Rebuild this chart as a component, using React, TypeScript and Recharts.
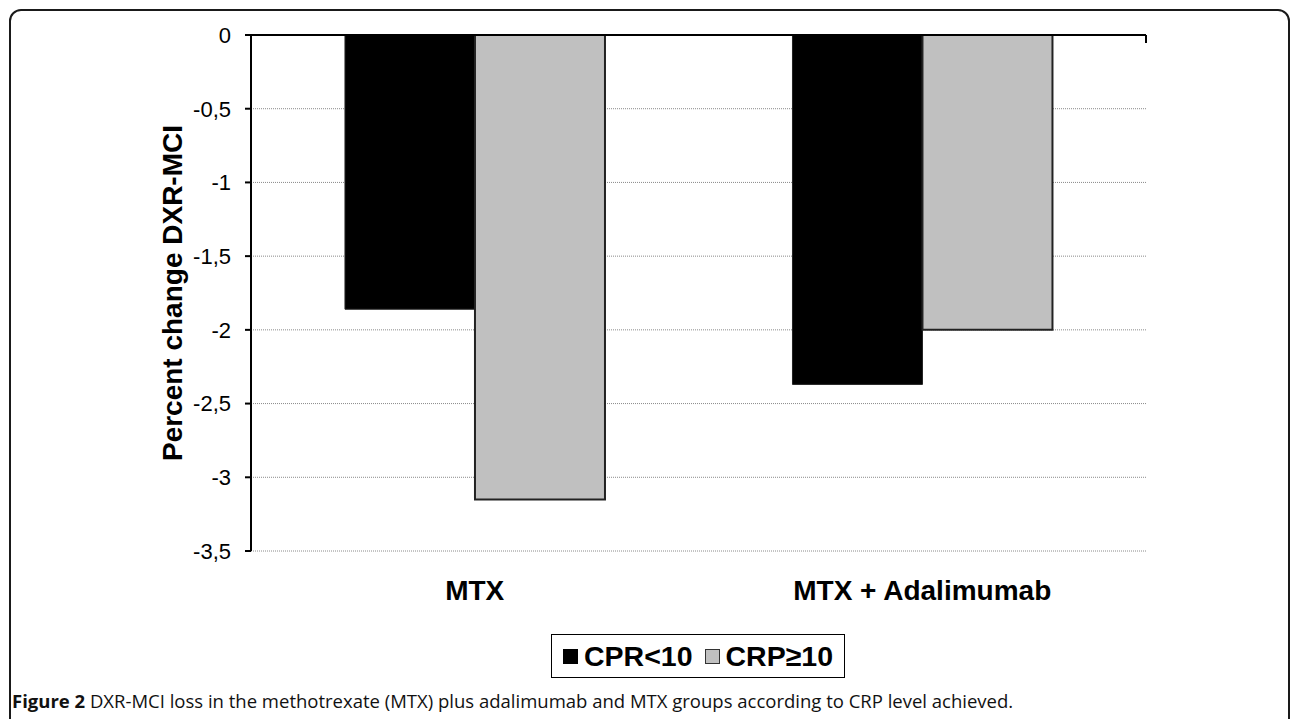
import React from "react";
import { BarChart, Bar, XAxis, YAxis, CartesianGrid, Legend } from "recharts";

const groups = ["MTX", "MTX + Adalimumab"];
const crpLow = [-1.86, -2.37];
const crpHigh = [-3.15, -2.0];
const yTicks = [0, -0.5, -1, -1.5, -2, -2.5, -3, -3.5];
const edgeTicks = [0, 1, 2];

const data = groups.map((g, i) => ({ group: g, low: crpLow[i], high: crpHigh[i] }));

const ARIAL = "Arial, 'Liberation Sans', sans-serif";

function LegendBox() {
  const item = (fill: string, stroke: string, text: string, gap: number) => (
    <span style={{ display: "inline-flex", alignItems: "center", marginRight: gap }}>
      <span
        style={{
          display: "inline-block",
          boxSizing: "border-box",
          width: 15,
          height: 15,
          background: fill,
          border: `1px solid ${stroke}`,
          marginRight: 6,
        }}
      />
      <span>{text}</span>
    </span>
  );
  return (
    <div
      style={{
        boxSizing: "border-box",
        height: 44,
        width: 294,
        border: "1.5px solid #000",
        display: "flex",
        alignItems: "center",
        justifyContent: "center",
        fontFamily: ARIAL,
        fontWeight: "bold",
        fontSize: 28.5,
        lineHeight: "30px",
        color: "#000",
      }}
    >
      {item("#000", "#000", "CPR<10", 12)}
      {item("#c0c0c0", "#333", "CRP\u226510", 0)}
    </div>
  );
}

export default function App() {
  return (
    <div
      style={{
        position: "absolute",
        left: 0,
        top: 0,
        width: 1290,
        height: 719,
        overflow: "hidden",
        background: "#fff",
      }}
    >
      <div
        style={{
          position: "absolute",
          left: 9,
          top: 9,
          width: 1281,
          height: 800,
          boxSizing: "border-box",
          border: "2px solid #1a1a1a",
          borderRadius: 12,
        }}
      />
      <div style={{ position: "absolute", left: 0, top: 0 }}>
        <BarChart
          width={1290}
          height={719}
          data={data}
          barCategoryGap="21%"
          barGap={0}
          margin={{ top: 35, right: 144, left: 191, bottom: 64 }}
        >
          <CartesianGrid
            vertical={false}
            stroke="#8a8a8a"
            strokeDasharray="1 1"
          />
          <XAxis
            dataKey="group"
            axisLine={false}
            tickLine={false}
            height={60}
            tickMargin={23}
            tick={{ fill: "#000", fontSize: 28, fontWeight: "bold", fontFamily: ARIAL }}
            interval={0}
          />
          <XAxis
            xAxisId="edge"
            orientation="top"
            type="number"
            domain={[0, 2]}
            ticks={edgeTicks}
            mirror
            height={10}
            axisLine={{ stroke: "#000", strokeWidth: 2 }}
            tickLine={{ stroke: "#000", strokeWidth: 2 }}
            tickSize={8}
            tickFormatter={() => ""}
          />
          <YAxis
            width={60}
            domain={[-3.5, 0]}
            ticks={yTicks}
            interval={0}
            axisLine={{ stroke: "#000", strokeWidth: 2 }}
            tickLine={{ stroke: "#000", strokeWidth: 2 }}
            tickSize={6}
            tickMargin={14}
            tickFormatter={(v: number) => String(v).replace(".", ",")}
            tick={{ fill: "#000", fontSize: 22, fontFamily: ARIAL }}
            label={(props: any) => {
              const vb = props.viewBox || {};
              const cx = 172;
              const cy = vb.y + vb.height / 2;
              return (
                <text
                  x={cx}
                  y={cy}
                  transform={`rotate(-90 ${cx} ${cy})`}
                  textAnchor="middle"
                  dominantBaseline="central"
                  fontFamily={ARIAL}
                  fontWeight="bold"
                  fontSize={28}
                  fill="#000"
                >
                  Percent change DXR-MCI
                </text>
              );
            }}
          />
          <Bar
            dataKey="low"
            name="CPR<10"
            fill="#000"
            stroke="#222"
            strokeWidth={1}
            isAnimationActive={false}
          />
          <Bar
            dataKey="high"
            name="CRP≥10"
            fill="#c0c0c0"
            stroke="#222"
            strokeWidth={2}
            isAnimationActive={false}
          />
          <Legend
            verticalAlign="bottom"
            content={() => <LegendBox />}
            wrapperStyle={{ top: 634, bottom: "auto", left: 551, width: 294, height: 44 }}
          />
        </BarChart>
      </div>
      <div
        style={{
          position: "absolute",
          left: 12,
          top: 688,
          fontFamily: "'Open Sans', 'Noto Sans', sans-serif",
          fontSize: 18.5,
          color: "#111",
          whiteSpace: "nowrap",
        }}
      >
        <b>Figure 2</b> DXR-MCI loss in the methotrexate (MTX) plus adalimumab and MTX groups according to CRP level achieved.
      </div>
    </div>
  );
}
